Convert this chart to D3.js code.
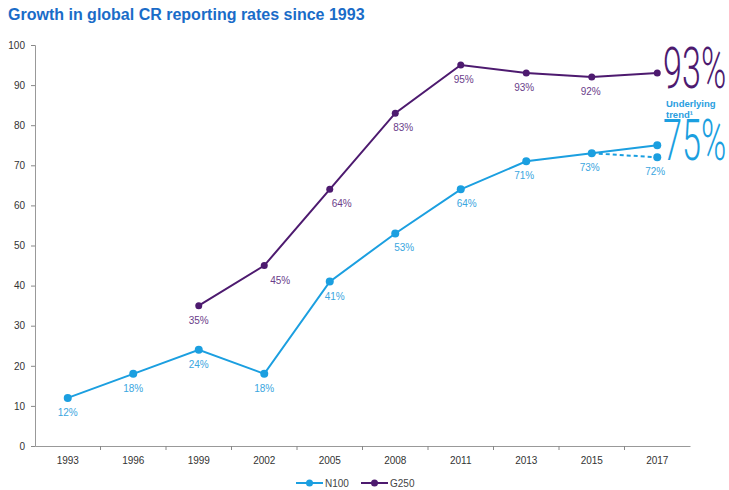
<!DOCTYPE html>
<html>
<head>
<meta charset="utf-8">
<script src="https://cdn.jsdelivr.net/npm/d3@7"></script>
<style>
  body { margin: 0; background: #fff; }
  svg { font-family: "Liberation Sans", Arial, sans-serif; }
</style>
</head>
<body>
<div id="chart"></div>
<script>
// chart data
const years = ["1993", "1996", "1999", "2002", "2005", "2008", "2011", "2013", "2015", "2017"];
const n100 = [12, 18, 24, 18, 41, 53, 64, 71, 73, 75];
const n100Labels = ["12%", "18%", "24%", "18%", "41%", "53%", "64%", "71%", "73%", null];
const n100Actual2017 = 72;
const g250 = [null, null, 35, 45, 64, 83, 95, 93, 92, 93];
const g250Labels = [null, null, "35%", "45%", "64%", "83%", "95%", "93%", "92%", null];
const yTicks = [0, 10, 20, 30, 40, 50, 60, 70, 80, 90, 100];

const width = 729, height = 490;
const margin = {top: 45, right: 39, bottom: 44, left: 35};
const blue = "#1b9fe0", purple = "#4d1a6f";

const svg = d3.select("#chart").append("svg")
  .attr("width", width)
  .attr("height", height);

svg.append("text")
  .attr("x", 8).attr("y", 20)
  .attr("font-size", "16px")
  .attr("font-weight", "bold")
  .attr("fill", "#1a6cc8")
  .text("Growth in global CR reporting rates since 1993");

const x = d3.scaleBand()
  .domain(years)
  .range([margin.left, width - margin.right]);

const y = d3.scaleLinear()
  .domain([0, 100])
  .range([height - margin.bottom, margin.top]);

const cx = i => x(years[i]) + x.bandwidth() / 2;

// y axis
const yAxis = svg.append("g")
  .attr("transform", `translate(${margin.left},0)`)
  .call(d3.axisLeft(y).tickValues(yTicks).tickSize(4).tickPadding(6));
yAxis.selectAll("text").attr("font-size", "10px").attr("fill", "#333");

// x axis, ticks at band edges
const xAxis = svg.append("g")
  .attr("transform", `translate(0,${height - margin.bottom})`)
  .call(d3.axisBottom(x).tickSize(0).tickPadding(11));
xAxis.selectAll("text").attr("font-size", "10px").attr("fill", "#333");
xAxis.selectAll(".edge")
  .data(years.slice(1))
  .enter().append("line")
  .attr("x1", d => x(d)).attr("x2", d => x(d))
  .attr("y1", 0).attr("y2", 4)
  .attr("stroke", "#888");

svg.selectAll(".domain").attr("stroke", "#999");
svg.selectAll(".tick line").attr("stroke", "#888");

// G250
const g250Pts = g250.map((v, i) => ({i, v})).filter(d => d.v !== null);
svg.append("path")
  .datum(g250Pts)
  .attr("fill", "none")
  .attr("stroke", purple)
  .attr("stroke-width", 2)
  .attr("d", d3.line().x(d => cx(d.i)).y(d => y(d.v)));
svg.selectAll(".gdot").data(g250Pts).enter().append("circle")
  .attr("cx", d => cx(d.i)).attr("cy", d => y(d.v)).attr("r", 3.5)
  .attr("fill", purple);

const gOffsets = {2: 0, 3: 16, 4: 12, 5: 8, 6: 3, 7: -2, 8: -1};
svg.selectAll(".glab").data(g250Pts.filter(d => g250Labels[d.i])).enter().append("text")
  .attr("x", d => cx(d.i) + gOffsets[d.i])
  .attr("y", d => y(d.v) + 18)
  .attr("text-anchor", "middle")
  .attr("font-size", "10px")
  .attr("fill", "#6a3d8a")
  .text(d => g250Labels[d.i]);

// N100
const n100Pts = n100.map((v, i) => ({i, v}));
svg.append("path")
  .datum(n100Pts)
  .attr("fill", "none")
  .attr("stroke", blue)
  .attr("stroke-width", 2)
  .attr("d", d3.line().x(d => cx(d.i)).y(d => y(d.v)));
svg.append("line")
  .attr("x1", cx(8)).attr("y1", y(n100[8]))
  .attr("x2", cx(9)).attr("y2", y(n100Actual2017))
  .attr("stroke", blue).attr("stroke-width", 2)
  .attr("stroke-dasharray", "4,3");
svg.selectAll(".ndot").data(n100Pts).enter().append("circle")
  .attr("cx", d => cx(d.i)).attr("cy", d => y(d.v)).attr("r", 4)
  .attr("fill", blue);
svg.append("circle")
  .attr("cx", cx(9)).attr("cy", y(n100Actual2017)).attr("r", 4)
  .attr("fill", blue);

const nOffsets = {0: 0, 1: 0, 2: 0, 3: 0, 4: 5, 5: 9, 6: 6, 7: -2, 8: -2};
svg.selectAll(".nlab").data(n100Pts.filter(d => n100Labels[d.i])).enter().append("text")
  .attr("x", d => cx(d.i) + nOffsets[d.i])
  .attr("y", d => y(d.v) + 18)
  .attr("text-anchor", "middle")
  .attr("font-size", "10px")
  .attr("fill", "#3aa6e0")
  .text(d => n100Labels[d.i]);
svg.append("text")
  .attr("x", cx(9) - 2)
  .attr("y", y(n100Actual2017) + 18)
  .attr("text-anchor", "middle")
  .attr("font-size", "10px")
  .attr("fill", "#3aa6e0")
  .text(n100Actual2017 + "%");

// big callouts on the right, condensed by a horizontal scale
function bigText(tx, ty, txt, color) {
  svg.append("text")
    .attr("transform", `translate(${tx},${ty}) scale(0.6,1)`)
    .attr("font-family", "Roboto, 'Liberation Sans', sans-serif")
    .attr("font-weight", 300)
    .attr("font-size", "57px")
    .attr("fill", color)
    .text(txt);
}
bigText(663, 88, g250[9] + "%", purple);
svg.append("text")
  .attr("x", 666).attr("y", 107)
  .attr("font-size", "9.5px").attr("font-weight", "bold")
  .attr("fill", "#2a9ee0")
  .text("Underlying");
svg.append("text")
  .attr("x", 666).attr("y", 118)
  .attr("font-size", "9.5px").attr("font-weight", "bold")
  .attr("fill", "#2a9ee0")
  .text("trend\u00b9");
bigText(663, 160, n100[9] + "%", blue);

// legend
const legend = [{name: "N100", color: blue, x: 296}, {name: "G250", color: purple, x: 361}];
const lg = svg.selectAll(".leg").data(legend).enter().append("g")
  .attr("transform", d => `translate(${d.x},483)`);
lg.append("line").attr("x1", 0).attr("x2", 27).attr("stroke", d => d.color).attr("stroke-width", 2);
lg.append("circle").attr("cx", 13.5).attr("r", 3.5).attr("fill", d => d.color);
lg.append("text").attr("x", 29).attr("y", 3.5)
  .attr("font-size", "10px").attr("fill", "#444")
  .text(d => d.name);
</script>
</body>
</html>
